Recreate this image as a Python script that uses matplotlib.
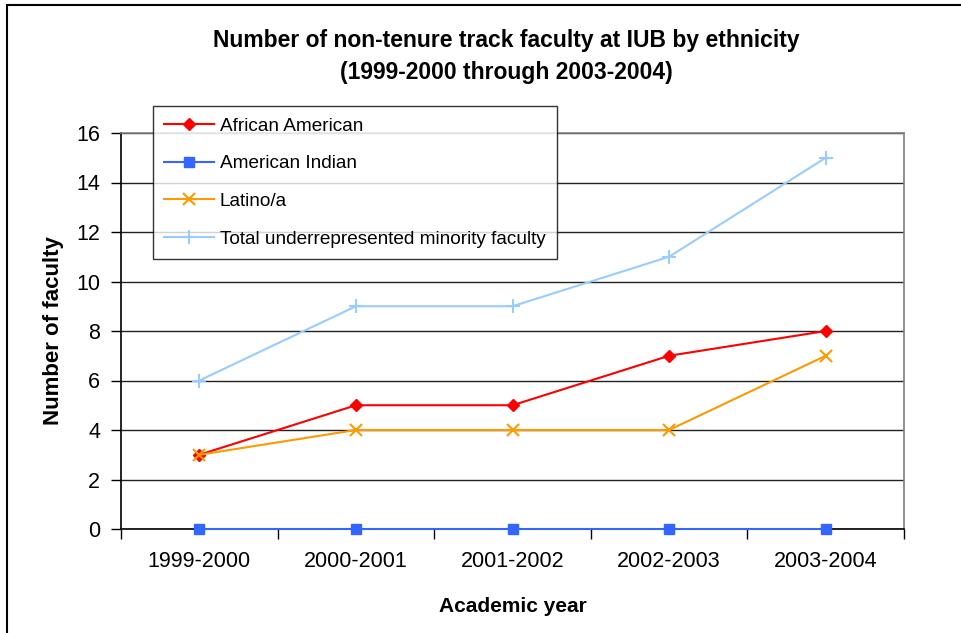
import numpy as np
import matplotlib.pyplot as plt
from matplotlib.patches import Rectangle

years = ['1999-2000', '2000-2001', '2001-2002', '2002-2003', '2003-2004']
african_american = [3, 5, 5, 7, 8]
american_indian = [0, 0, 0, 0, 0]
latino = [3, 4, 4, 4, 7]
total_urm = [6, 9, 9, 11, 15]

def main():
    plt.rcParams['font.family'] = ['Liberation Sans', 'DejaVu Sans']
    fig = plt.figure(figsize=(9.62, 6.33), dpi=100)
    ax = fig.add_axes([121 / 962, 1 - 529 / 633, 783 / 962, 396 / 633])
    x = np.arange(len(years))

    ax.plot(x, african_american, color='#FF0000', lw=1.5, marker='D', ms=6.5,
            label='African American', zorder=3, clip_on=False)
    ax.plot(x, american_indian, color='#3366FF', lw=1.5, marker='s', ms=7,
            label='American Indian', zorder=3, clip_on=False)
    ax.plot(x, latino, color='#FF9900', lw=1.5, marker='x', ms=9, mew=1.5,
            label='Latino/a', zorder=4, clip_on=False)
    ax.plot(x, total_urm, color='#99CCFF', lw=1.5, marker='+', ms=10, mew=1.5,
            label='Total underrepresented minority faculty', zorder=4, clip_on=False)

    ax.set_xlim(-0.5, len(years) - 0.5)
    ax.set_ylim(0, 16)
    ax.set_yticks(np.arange(0, 17, 2))
    ax.set_xticks(x)
    ax.set_xticklabels(years)
    ax.set_xticks(np.arange(-0.5, len(years), 1.0), minor=True)
    ax.tick_params(axis='x', which='major', length=0, pad=16, labelsize=15.5)
    ax.tick_params(axis='x', which='minor', length=7, width=1, direction='out')
    ax.tick_params(axis='y', length=7, width=1, direction='out', pad=8, labelsize=15.5)
    ax.yaxis.grid(True, color='#222222', lw=1)
    ax.set_axisbelow(True)
    for s in ['top', 'right']:
        ax.spines[s].set_color('#808080')
        ax.spines[s].set_linewidth(1.2)
    for s in ['left', 'bottom']:
        ax.spines[s].set_color('black')
        ax.spines[s].set_linewidth(1.2)

    ax.set_xlabel('Academic year', fontsize=15, fontweight='bold', labelpad=18)
    ax.set_ylabel('Number of faculty', fontsize=16, fontweight='bold', labelpad=9)

    fig.text(0.526, 1 - 41 / 633, 'Number of non-tenure track faculty at IUB by ethnicity',
             ha='center', va='center', fontsize=16.5, fontweight='bold')
    fig.text(0.526, 1 - 72 / 633, '(1999-2000 through 2003-2004)',
             ha='center', va='center', fontsize=16.5, fontweight='bold')

    leg = fig.legend(loc='upper left', bbox_to_anchor=(153 / 962, 1 - 106 / 633),
                     fontsize=13.7, frameon=True, fancybox=False, edgecolor='black',
                     handlelength=2.6, handletextpad=0.3, labelspacing=1.07,
                     borderpad=0.6, borderaxespad=0)
    leg.get_frame().set_linewidth(1.0)

    fig.add_artist(Rectangle((7 / 962, -0.1), 1.2, 1.1 - 5 / 633, transform=fig.transFigure,
                             fill=False, edgecolor='black', lw=1.5, clip_on=False))

    plt.savefig('out.png', dpi=100)

if __name__ == '__main__':
    main()
